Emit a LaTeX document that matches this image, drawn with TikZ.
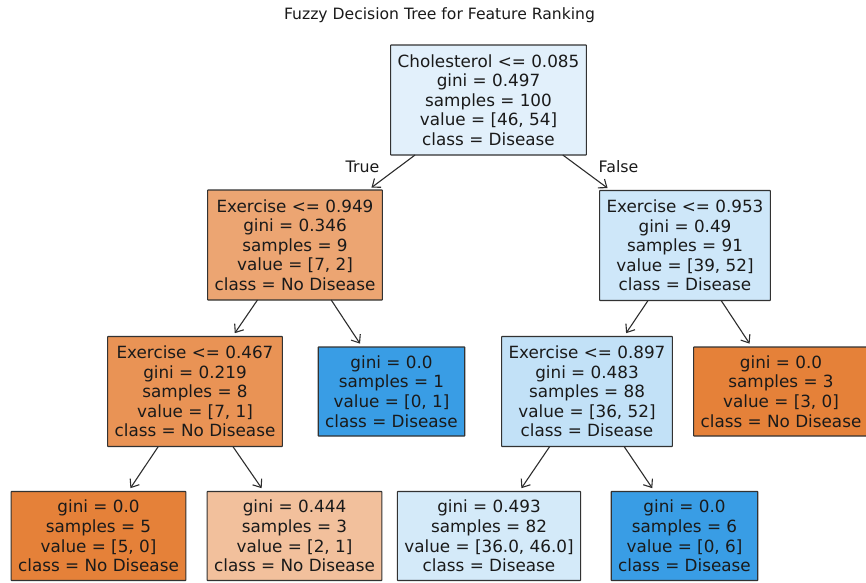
\documentclass[tikz,border=0pt]{standalone}
\usepackage{fontspec}
\setmainfont{DejaVu Sans}
\usetikzlibrary{arrows.meta}
\definecolor{cRoot}{RGB}{226,240,251}
\definecolor{cA}{RGB}{236,165,114}
\definecolor{cB}{RGB}{206,231,249}
\definecolor{cC}{RGB}{233,147,85}
\definecolor{cBlue}{RGB}{57,157,229}
\definecolor{cD}{RGB}{194,225,247}
\definecolor{cOr}{RGB}{229,129,57}
\definecolor{cE}{RGB}{242,192,156}
\definecolor{cF}{RGB}{212,234,249}
\definecolor{txt}{RGB}{26,26,26}
\definecolor{edge}{RGB}{50,50,50}
\tikzset{
  treebox/.style={draw=edge, line width=1.1pt, rounded corners=0.5pt, align=center,
    inner xsep=7pt, inner ysep=0pt, outer sep=0pt, text=txt,
    font=\fontsize{16.8}{19.6}\selectfont},
  inbox/.style={treebox, minimum height=110pt},
  leafbox/.style={treebox, minimum height=89pt},
  link/.style={draw=edge!90!black, line width=1.1pt, -{Straight Barb[length=7pt,width=11pt]}, shorten >=4pt},
  lbl/.style={text=txt, font=\fontsize{15.8}{18}\selectfont, inner sep=0pt}
}
\begin{document}
\begin{tikzpicture}[x=1pt,y=-1pt]
\useasboundingbox (0,0) rectangle (866,582);
\node[lbl, anchor=base, font=\fontsize{15.6}{18}\selectfont] (title) at (439.5,19.5) {Fuzzy Decision Tree for Feature Ranking};
\node[inbox, fill=cRoot] (root) at (488.5,100) {Cholesterol <= 0.085\\gini = 0.497\\samples = 100\\value = [46, 54]\\class = Disease};
\node[inbox, fill=cA] (n1) at (295,245) {Exercise <= 0.949\\gini = 0.346\\samples = 9\\value = [7, 2]\\class = No Disease};
\node[inbox, fill=cB] (n2) at (685,245.5) {Exercise <= 0.953\\gini = 0.49\\samples = 91\\value = [39, 52]\\class = Disease};
\node[inbox, fill=cC] (n3) at (195,391.5) {Exercise <= 0.467\\gini = 0.219\\samples = 8\\value = [7, 1]\\class = No Disease};
\node[leafbox, fill=cBlue] (n4) at (391.5,391.5) {gini = 0.0\\samples = 1\\value = [0, 1]\\class = Disease};
\node[inbox, fill=cD] (n5) at (587,391.5) {Exercise <= 0.897\\gini = 0.483\\samples = 88\\value = [36, 52]\\class = Disease};
\node[leafbox, fill=cOr] (n6) at (781,391.5) {gini = 0.0\\samples = 3\\value = [3, 0]\\class = No Disease};
\node[leafbox, fill=cOr] (n7) at (98.5,536) {gini = 0.0\\samples = 5\\value = [5, 0]\\class = No Disease};
\node[leafbox, fill=cE] (n8) at (294.5,536) {gini = 0.444\\samples = 3\\value = [2, 1]\\class = No Disease};
\node[leafbox, fill=cF] (n9) at (489,536) {gini = 0.493\\samples = 82\\value = [36.0, 46.0]\\class = Disease};
\node[leafbox, fill=cBlue] (n10) at (684.5,536) {gini = 0.0\\samples = 6\\value = [0, 6]\\class = Disease};
\draw[link] (root) -- (n1);
\draw[link] (root) -- (n2);
\draw[link] (n1) -- (n3);
\draw[link] (n1) -- (n4);
\draw[link] (n2) -- (n5);
\draw[link] (n2) -- (n6);
\draw[link] (n3) -- (n7);
\draw[link] (n3) -- (n8);
\draw[link] (n5) -- (n9);
\draw[link] (n5) -- (n10);
\node[lbl] (tl) at (362.5,167) {True};
\node[lbl] (fl) at (618.5,167) {False};
\end{tikzpicture}
\end{document}
